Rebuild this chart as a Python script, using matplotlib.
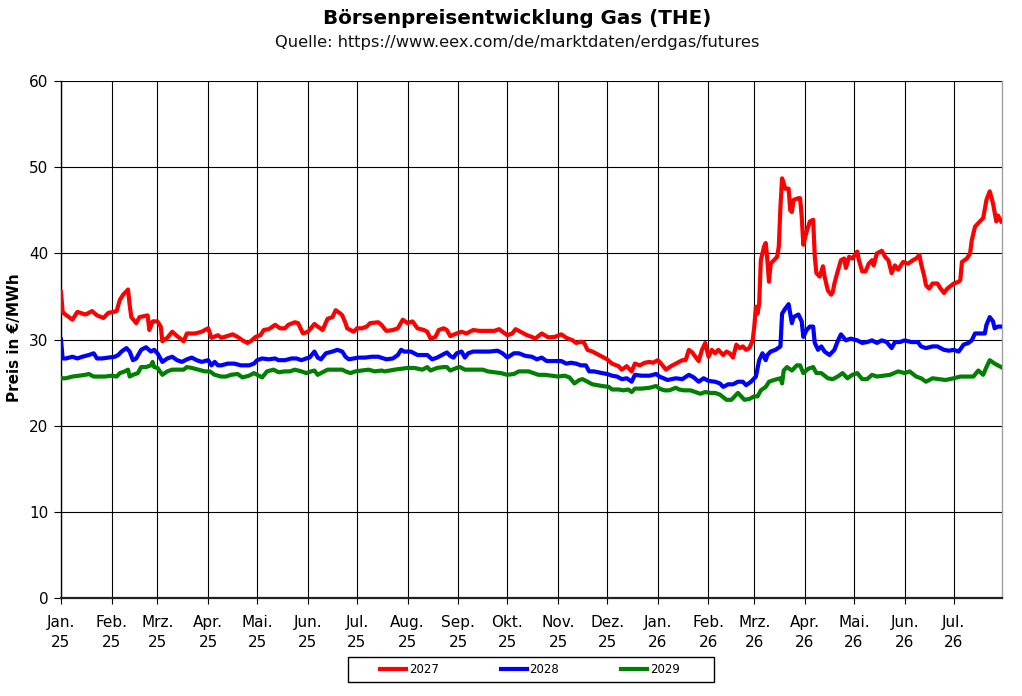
import matplotlib
matplotlib.use('Agg')
import matplotlib.pyplot as plt
import pandas as pd
from matplotlib.patches import Rectangle

# ---------------- data (day offset from 2025-01-01, price in EUR/MWh) ----------------
series_names = ['2027', '2028', '2029']
series_colors = ['#ff0000', '#0000ff', '#008000']

red_pts = [
    (0, 35.5), (1, 33.2), (2, 33.0), (7, 32.3), (10, 33.2), (15, 32.9), (19, 33.3), (22, 32.8),
    (26, 32.5), (29, 33.1), (32, 33.2), (34, 33.3), (36, 34.6), (38, 35.2), (41, 35.8), (42, 34.0),
    (43, 32.6), (46, 31.9), (48, 32.6), (53, 32.8), (54, 31.1), (56, 32.1), (59, 32.1), (61, 31.5),
    (62, 29.8), (65, 30.2), (68, 30.9), (71, 30.4), (75, 29.8), (77, 30.7), (82, 30.7), (86, 30.9),
    (90, 31.3), (92, 30.2), (96, 30.5), (98, 30.2), (100, 30.3), (105, 30.6), (108, 30.3), (111, 29.9),
    (114, 29.6), (116, 29.8), (119, 30.3), (122, 30.5), (124, 31.1), (127, 31.2), (131, 31.7), (134, 31.3),
    (137, 31.3), (139, 31.7), (143, 32.0), (145, 31.9), (146, 31.5), (148, 30.7), (151, 30.9), (155, 31.8),
    (157, 31.5), (160, 31.1), (163, 32.4), (166, 32.6), (168, 33.4), (171, 33.0), (172, 32.8), (174, 31.9),
    (175, 31.3), (179, 30.9), (181, 31.3), (184, 31.3), (187, 31.5), (189, 31.9), (194, 32.0), (196, 31.7),
    (198, 31.2), (199, 31.0), (203, 31.1), (206, 31.3), (209, 32.3), (212, 31.9), (215, 32.1), (218, 31.3),
    (222, 31.1), (224, 30.9), (226, 30.1), (229, 30.3), (231, 31.1), (234, 31.3), (236, 31.1), (238, 30.4),
    (242, 30.7), (245, 30.9), (248, 30.7), (252, 31.1), (256, 31.0), (261, 31.0), (265, 31.0), (268, 31.2),
    (270, 30.9), (273, 30.5), (276, 30.7), (278, 31.2), (282, 30.8), (285, 30.5), (288, 30.3), (290, 30.1),
    (294, 30.7), (298, 30.25), (302, 30.3), (306, 30.6), (309, 30.2), (313, 29.9), (315, 29.6), (318, 29.75),
    (320, 29.6), (322, 28.8), (325, 28.6), (328, 28.3), (331, 28.0), (334, 27.7), (337, 27.2), (341, 26.9),
    (343, 26.5), (346, 26.9), (349, 26.3), (351, 27.2), (354, 27.0), (357, 27.3), (360, 27.4), (362, 27.3),
    (365, 27.6), (367, 27.2), (370, 26.5), (373, 26.9), (376, 27.2), (380, 27.6), (382, 27.6), (384, 28.8),
    (386, 28.5), (390, 27.5), (392, 28.8), (394, 29.6), (396, 28.0), (398, 28.8), (400, 28.4), (402, 28.8),
    (405, 28.2), (407, 28.6), (409, 28.4), (411, 27.9), (413, 29.4), (415, 29.0), (417, 29.2), (419, 28.8),
    (421, 29.0), (423, 29.9), (424, 31.5), (425, 33.8), (426, 33.0), (427, 34.2), (428, 39.2), (430, 40.8),
    (431, 41.2), (432, 39.2), (433, 36.7), (434, 38.8), (436, 39.2), (438, 39.6), (439, 40.8), (440, 45.4),
    (441, 48.7), (443, 47.5), (445, 47.5), (446, 45.0), (447, 44.8), (448, 46.2), (451, 46.4), (452, 46.4),
    (453, 44.3), (454, 41.0), (456, 42.5), (458, 43.7), (460, 43.9), (461, 39.6), (462, 37.7), (464, 37.3),
    (466, 38.5), (467, 37.3), (468, 36.5), (469, 35.7), (471, 35.2), (472, 35.5), (473, 36.5), (475, 37.9),
    (477, 39.2), (479, 39.4), (480, 38.3), (482, 39.6), (484, 39.4), (487, 40.2), (488, 39.2), (490, 37.9),
    (492, 37.9), (494, 38.8), (496, 39.2), (497, 38.6), (499, 40.0), (502, 40.3), (504, 39.6), (506, 39.2),
    (508, 37.7), (510, 38.6), (512, 38.1), (515, 39.0), (518, 38.8), (521, 39.2), (523, 39.4), (525, 39.8),
    (526, 38.8), (528, 37.3), (529, 36.3), (531, 35.9), (533, 36.5), (536, 36.5), (538, 35.9), (540, 35.4),
    (542, 35.9), (546, 36.5), (549, 36.7), (550, 36.9), (551, 39.0), (554, 39.4), (556, 40.0), (557, 41.5),
    (559, 43.1), (562, 43.7), (564, 44.1), (566, 46.2), (568, 47.2), (570, 45.8), (572, 43.7), (573, 44.4),
    (575, 43.7),
]

blue_pts = [
    (0, 30.0), (1, 27.8), (3, 27.8), (7, 28.0), (10, 27.8), (13, 28.0), (17, 28.2), (20, 28.4),
    (22, 27.8), (25, 27.8), (29, 27.9), (33, 28.0), (35, 28.2), (37, 28.6), (40, 29.0), (42, 28.6),
    (44, 27.6), (46, 27.8), (49, 28.8), (52, 29.1), (55, 28.6), (57, 28.8), (59, 28.4), (62, 27.4),
    (65, 27.8), (68, 28.0), (71, 27.6), (74, 27.4), (77, 27.7), (80, 27.9), (83, 27.6), (86, 27.4),
    (90, 27.6), (92, 27.0), (94, 27.4), (96, 27.0), (98, 27.0), (102, 27.2), (106, 27.2), (110, 27.0),
    (115, 27.0), (118, 27.2), (120, 27.6), (123, 27.8), (127, 27.7), (131, 27.8), (133, 27.6), (137, 27.6),
    (141, 27.8), (144, 27.8), (147, 27.6), (150, 27.8), (152, 27.9), (155, 28.6), (157, 27.9), (159, 27.7),
    (162, 28.4), (166, 28.6), (169, 28.8), (172, 28.6), (174, 28.0), (176, 27.7), (179, 27.8), (182, 27.9),
    (186, 27.9), (190, 28.0), (194, 28.0), (199, 27.7), (203, 27.8), (206, 28.2), (208, 28.8), (210, 28.6),
    (214, 28.6), (218, 28.2), (221, 28.2), (224, 28.2), (227, 27.7), (230, 27.9), (233, 28.2), (236, 28.5),
    (238, 28.1), (240, 27.9), (242, 28.4), (245, 28.6), (247, 27.9), (249, 28.4), (252, 28.6), (257, 28.6),
    (262, 28.6), (267, 28.7), (270, 28.4), (273, 27.9), (277, 28.4), (280, 28.4), (284, 28.1), (288, 28.0),
    (291, 27.7), (294, 27.9), (297, 27.5), (301, 27.5), (306, 27.5), (309, 27.2), (312, 27.3), (315, 27.2),
    (318, 27.0), (321, 27.0), (323, 26.3), (326, 26.3), (331, 26.1), (334, 26.0), (337, 25.8), (340, 25.7),
    (343, 25.4), (346, 25.5), (349, 25.1), (351, 25.9), (355, 25.8), (360, 25.8), (364, 26.0), (366, 25.7),
    (371, 25.3), (376, 25.5), (380, 25.4), (384, 25.9), (387, 25.6), (390, 25.1), (393, 25.5), (396, 25.2),
    (400, 25.1), (403, 24.9), (405, 24.5), (408, 24.8), (411, 24.8), (414, 25.1), (417, 25.1), (419, 24.7),
    (422, 25.1), (425, 25.7), (427, 27.6), (429, 28.4), (431, 27.6), (432, 28.2), (434, 28.6), (437, 28.8),
    (440, 29.2), (441, 33.0), (443, 33.6), (445, 34.1), (447, 31.9), (448, 32.6), (451, 32.9), (453, 32.1),
    (454, 30.3), (456, 31.1), (458, 31.5), (460, 31.5), (461, 29.6), (463, 28.8), (465, 29.2), (467, 28.6),
    (470, 28.2), (473, 28.8), (475, 29.8), (477, 30.6), (480, 29.9), (483, 30.1), (487, 29.9), (490, 29.6),
    (493, 29.7), (496, 29.9), (499, 29.6), (502, 29.9), (505, 29.7), (508, 29.0), (510, 29.7), (513, 29.7),
    (516, 29.9), (520, 29.7), (524, 29.7), (526, 29.2), (529, 29.0), (533, 29.2), (536, 29.2), (540, 28.8),
    (543, 28.7), (546, 28.8), (549, 28.6), (552, 29.4), (555, 29.6), (557, 29.9), (559, 30.7), (562, 30.7),
    (565, 30.7), (566, 31.7), (568, 32.6), (570, 32.1), (571, 31.3), (573, 31.5), (575, 31.5),
]

green_pts = [
    (0, 25.5), (3, 25.5), (7, 25.7), (11, 25.8), (15, 25.9), (17, 26.0), (20, 25.7), (23, 25.7),
    (27, 25.7), (31, 25.8), (34, 25.7), (36, 26.1), (39, 26.3), (41, 26.5), (42, 25.7), (44, 25.9),
    (47, 26.1), (49, 26.8), (52, 26.8), (55, 27.0), (56, 27.4), (57, 26.8), (59, 26.7), (62, 25.9),
    (65, 26.3), (68, 26.5), (72, 26.5), (75, 26.5), (77, 26.8), (80, 26.7), (84, 26.5), (88, 26.3),
    (91, 26.3), (94, 25.9), (98, 25.7), (101, 25.7), (104, 25.9), (108, 26.0), (111, 25.6), (115, 25.8),
    (118, 26.1), (120, 25.9), (123, 25.6), (126, 26.3), (130, 26.5), (133, 26.2), (137, 26.3), (140, 26.3),
    (143, 26.5), (147, 26.3), (150, 26.1), (153, 26.3), (155, 26.4), (157, 25.9), (159, 26.1), (163, 26.5),
    (168, 26.5), (172, 26.5), (174, 26.3), (177, 26.1), (180, 26.3), (184, 26.4), (188, 26.5), (192, 26.3),
    (196, 26.4), (198, 26.3), (201, 26.4), (204, 26.5), (208, 26.6), (212, 26.7), (216, 26.7), (221, 26.5),
    (224, 26.8), (226, 26.4), (230, 26.7), (234, 26.8), (236, 26.8), (238, 26.4), (242, 26.7), (244, 26.8),
    (247, 26.5), (251, 26.5), (255, 26.5), (258, 26.5), (261, 26.3), (265, 26.2), (269, 26.1), (273, 25.9),
    (277, 26.0), (280, 26.3), (283, 26.3), (286, 26.3), (289, 26.1), (292, 25.9), (296, 25.9), (300, 25.8),
    (304, 25.7), (308, 25.8), (311, 25.6), (314, 24.9), (317, 25.3), (319, 25.4), (322, 25.1), (325, 24.8),
    (331, 24.6), (335, 24.5), (337, 24.2), (341, 24.2), (344, 24.1), (347, 24.2), (349, 23.9), (351, 24.3),
    (355, 24.3), (360, 24.4), (364, 24.6), (366, 24.3), (369, 24.1), (372, 24.1), (376, 24.4), (378, 24.2),
    (381, 24.1), (385, 24.1), (388, 23.9), (391, 23.7), (394, 23.9), (397, 23.8), (400, 23.8), (403, 23.6),
    (407, 23.0), (410, 23.0), (412, 23.4), (414, 23.8), (416, 23.4), (418, 23.0), (421, 23.1), (424, 23.4),
    (426, 23.4), (428, 24.1), (431, 24.5), (433, 25.1), (436, 25.3), (440, 25.5), (441, 24.9), (442, 26.4),
    (444, 26.8), (447, 26.4), (450, 27.0), (452, 27.0), (454, 26.1), (457, 26.6), (460, 26.8), (462, 26.1),
    (465, 26.1), (469, 25.5), (472, 25.4), (475, 25.7), (478, 26.1), (481, 25.5), (484, 25.9), (487, 26.1),
    (490, 25.4), (493, 25.4), (496, 25.9), (499, 25.7), (503, 25.8), (507, 25.9), (512, 26.3), (516, 26.1),
    (519, 26.3), (523, 25.7), (526, 25.5), (529, 25.1), (533, 25.5), (537, 25.4), (541, 25.3), (546, 25.5),
    (550, 25.7), (554, 25.7), (558, 25.7), (561, 26.4), (564, 25.9), (566, 26.8), (568, 27.6), (571, 27.2),
    (575, 26.8),
]

month_labels = ['Jan.', 'Feb.', 'Mrz.', 'Apr.', 'Mai.', 'Jun.', 'Jul.', 'Aug.',
                'Sep.', 'Okt.', 'Nov.', 'Dez.']
y_ticks = [0, 10, 20, 30, 40, 50, 60]

title = 'Börsenpreisentwicklung Gas (THE)'
subtitle = 'Quelle: https://www.eex.com/de/marktdaten/erdgas/futures'
y_label = 'Preis in €/MWh'

START = pd.Timestamp('2025-01-01')
END_DAY = 575.5

# ---------------- figure ----------------
plt.rcParams['font.family'] = ['DejaVu Sans']
W, H = 1022, 696
fig = plt.figure(figsize=(W / 100, H / 100), dpi=100)
ax = fig.add_axes([61 / W, 1 - 598 / H, (1002 - 61) / W, (598 - 81) / H])

handles = []
for pts, name, col in zip([red_pts, blue_pts, green_pts], series_names, series_colors):
    days = [p[0] for p in pts]
    vals = [p[1] for p in pts]
    dates = START + pd.to_timedelta(days, unit='D')
    ln, = ax.plot(dates, vals, color=col, lw=3.0, label=name, zorder=3,
                  solid_joinstyle='round')
    handles.append(ln)

ax.set_xlim(START, START + pd.Timedelta(days=END_DAY))
ax.set_ylim(0, 60)

month_starts = pd.date_range('2025-01-01', '2026-07-01', freq='MS')
ax.set_xticks(month_starts)
ax.set_xticklabels([f'{month_labels[d.month - 1]}\n{d.year % 100}' for d in month_starts],
                   linespacing=1.4)
ax.set_yticks(y_ticks)
ax.set_yticklabels([str(v) for v in y_ticks])

ax.grid(True, color='black', lw=0.8)
ax.set_axisbelow(True)
ax.tick_params(axis='x', direction='out', length=4.5, width=0.8, pad=8, labelsize=11,
               colors='black')
ax.tick_params(axis='y', direction='out', length=5, width=0.8, pad=4, labelsize=11,
               colors='black')

ax.spines['top'].set_visible(False)
ax.spines['right'].set_color('#a0a0a0')
ax.spines['right'].set_linewidth(1.0)
ax.spines['left'].set_color('black')
ax.spines['left'].set_linewidth(1.0)
ax.spines['bottom'].set_color('#222222')
ax.spines['bottom'].set_linewidth(1.6)

fig.text(517 / W, 1 - 18.5 / H, title, ha='center', va='center', fontsize=14.3,
         fontweight='bold', color='black')
fig.text(517 / W, 1 - 42 / H, subtitle, ha='center', va='center', fontsize=11.7,
         color='#111111')
fig.text(15 / W, 1 - 338 / H, y_label, ha='center', va='center', rotation=90,
         fontsize=11, fontweight='bold', color='black')

leg = fig.legend(handles, series_names, loc='center',
                 bbox_to_anchor=(530 / W, 1 - 669.5 / H), ncol=3, frameon=False,
                 fontsize=8.5, handlelength=2.2, handletextpad=0.25, columnspacing=5.2)
fig.patches.append(Rectangle((348 / W, 1 - 682 / H), (714 - 348) / W, 25 / H,
                             transform=fig.transFigure, fill=False, ec='black', lw=1.0))

fig.savefig('out.png', dpi=100)
